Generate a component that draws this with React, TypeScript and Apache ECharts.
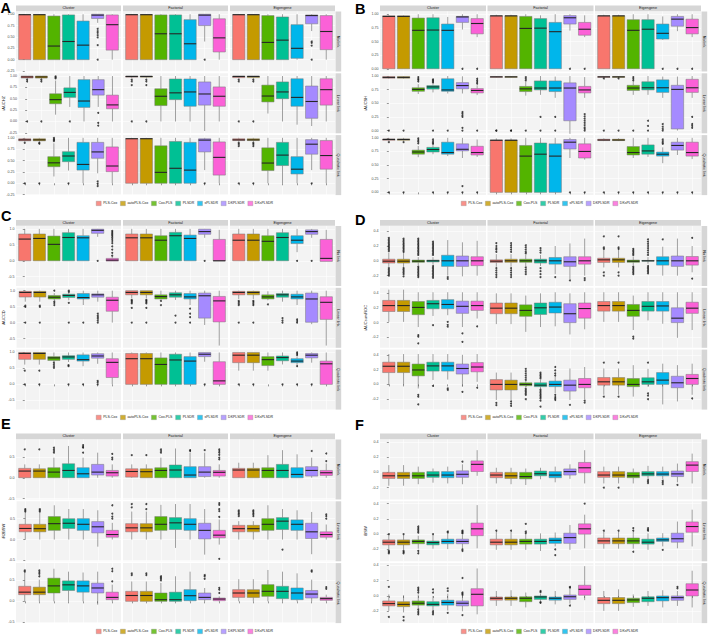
import React, { useEffect, useRef } from "react";
import * as echarts from "echarts";

const methods = ["PLS-Cox", "autoPLS-Cox", "Cox-PLS", "PLSDR", "sPLSDR", "DKPLSDR", "DKsPLSDR"];
const colors = ["#F8766D", "#C49A00", "#53B400", "#00C094", "#00B6EB", "#A58AFF", "#FB61D7"];
const designs = ["Cluster", "Factorial", "Eigengene"];
const links = ["No link", "Linear link", "Quadratic link"];

// [lower whisker, q1, median, q3, upper whisker] ; facets in order row(link) x column(design)
const boxesA = [
  [[0,0,0.99,0.99,1],[0,0,0.99,0.99,1],[0,0,0.30,0.96,1],[0,0,0.40,0.985,1],[0,0,0.32,0.85,1],[0.81,0.905,0.98,1,1],[0,0.21,0.77,0.985,1]],
  [[0,0,0.99,0.99,1],[0,0,0.99,0.99,1],[0,0,0.57,0.985,1],[0,0,0.57,0.985,1],[0,0,0.35,0.88,1],[0.40,0.75,0.98,1,1],[0,0.17,0.48,0.90,1]],
  [[0,0,0.99,0.99,1],[0,0,0.99,0.99,1],[0,0,0.38,0.97,1],[0,0,0.43,0.94,1],[0,0.03,0.25,0.77,1],[0.63,0.79,0.97,0.985,1],[0,0.22,0.62,0.97,1]],
  [[0.94,0.955,0.98,1,1],[0.94,0.955,0.98,1,1],[0.15,0.39,0.48,0.61,0.90],[0.32,0.53,0.64,0.74,1],[0,0.31,0.45,0.92,1],[0.32,0.58,0.70,0.92,1],[0,0.28,0.365,0.58,1]],
  [[0.96,0.975,0.99,1,1],[0.96,0.975,0.99,1,1],[0,0.35,0.555,0.72,1],[0,0.48,0.63,0.935,1],[0,0.335,0.65,0.935,1],[-0.21,0.36,0.605,0.87,1],[0,0.335,0.555,0.76,1]],
  [[0.95,0.965,0.99,1,1],[0.95,0.965,0.99,1,1],[0.175,0.43,0.56,0.80,1],[0,0.50,0.65,0.87,1],[-0.07,0.335,0.53,0.94,1],[-0.10,0.07,0.44,0.78,1],[0,0.36,0.70,0.94,1]],
  [[0.91,0.935,0.955,0.98,1],[0.91,0.935,0.955,0.98,1],[0.15,0.365,0.45,0.585,0.88],[0.28,0.475,0.60,0.695,1],[0,0.29,0.415,0.90,1],[0.22,0.55,0.69,0.90,1],[0,0.255,0.38,0.80,1]],
  [[0,0,0.98,0.985,1],[0,0,0.98,0.985,1],[0,0,0.24,0.825,1],[0,0,0.33,0.92,1],[0,0,0.29,0.90,1],[0.29,0.69,0.95,0.98,1],[0,0.18,0.57,0.91,1]],
  [[0.91,0.94,0.955,0.98,1],[0.91,0.94,0.955,0.98,1],[0,0.28,0.445,0.78,1],[0,0.39,0.62,0.90,1],[0,0.205,0.31,0.585,1],[0.29,0.64,0.86,0.96,1],[0,0.31,0.61,0.94,1]],
];
const outA = [
  [[],[],[],[],[],[0.68,0.63,0.59,0.54,0.49,0.32,0],[]],
  [[],[],[],[],[],[0],[]],
  [[],[],[],[],[],[0.40,0.37,0.31,0],[]],
  [[0.92,0.88,0],[0.92,0.88,0],[0.99,0.97,0.95],[0],[],[0.19,-0.03,-0.09],[]],
  [[0.92,0.88,0.80,0],[0.92,0.88,0.80,0],[],[],[],[],[]],
  [[0.92,0.88,0],[0.92,0.88,0],[],[],[],[],[]],
  [[0.89,0],[0.89,0.87,0],[1,0.97,0.95,0.93],[0],[],[0.04,-0.01,-0.06],[]],
  [[],[],[],[],[],[0],[]],
  [[0.89,0.86,0.82,0],[0.89,0.86,0.82,0],[],[],[],[0],[]],
];

const boxesB = [
  [[0,0,0.96,0.97,0.98],[0,0,0.96,0.97,0.98],[0,0,0.705,0.93,1],[0,0,0.71,0.935,1],[0,0,0.705,0.82,0.95],[0.72,0.85,0.95,0.96,1],[0.58,0.64,0.83,0.92,1]],
  [[0,0,0.97,0.97,0.99],[0,0,0.97,0.97,0.99],[0,0,0.74,0.96,1],[0,0,0.745,0.92,0.98],[0,0,0.68,0.85,1],[0.70,0.82,0.935,0.975,1],[0.58,0.615,0.725,0.85,0.98]],
  [[0,0,0.97,0.97,0.99],[0,0,0.97,0.97,0.99],[0,0,0.705,0.90,1],[0,0,0.725,0.90,1],[0.53,0.545,0.65,0.82,0.96],[0.69,0.78,0.91,0.96,1],[0.58,0.64,0.755,0.91,1]],
  [[0.95,0.96,0.975,0.99,1],[0.95,0.96,0.975,0.99,1],[0.67,0.72,0.755,0.785,0.85],[0.70,0.76,0.80,0.825,0.85],[0.68,0.72,0.745,0.95,1],[0.68,0.765,0.825,0.88,0.995],[0.65,0.69,0.735,0.77,0.83]],
  [[0.97,0.975,0.985,0.99,1],[0.97,0.975,0.985,0.99,1],[0.64,0.715,0.765,0.81,0.90],[0.655,0.745,0.78,0.91,1],[0.60,0.715,0.78,0.91,0.99],[-0.06,0.18,0.78,0.875,1],[0.60,0.69,0.745,0.81,0.98]],
  [[0.96,0.975,0.985,0.99,1],[0.96,0.975,0.985,0.99,1],[0.655,0.735,0.78,0.83,0.90],[0.655,0.745,0.785,0.895,1],[0.60,0.70,0.785,0.93,0.99],[0,0.03,0.755,0.83,0.99],[0.60,0.70,0.785,0.94,1]],
  [[0.94,0.955,0.97,0.98,1],[0.94,0.955,0.97,0.98,1],[0.645,0.70,0.74,0.775,0.85],[0.70,0.74,0.785,0.825,0.87],[0.665,0.70,0.73,0.92,1],[0.63,0.76,0.79,0.89,1],[0.65,0.685,0.73,0.845,0.97]],
  [[0,0,0.955,0.96,0.99],[0,0,0.955,0.96,0.99],[0,0,0.665,0.86,1],[0,0,0.70,0.905,1],[0,0,0.665,0.89,1],[0.63,0.795,0.92,0.97,1],[0.60,0.63,0.75,0.89,1]],
  [[0.94,0.95,0.96,0.975,0.99],[0.94,0.95,0.96,0.975,0.99],[0.63,0.685,0.73,0.84,1],[0.65,0.70,0.76,0.87,1],[0.535,0.665,0.70,0.74,0.825],[0.685,0.775,0.86,0.92,1],[0.61,0.665,0.73,0.92,1]],
];
const outB = [
  [[],[],[],[],[],[0],[0]],
  [[],[],[],[],[],[0],[0]],
  [[],[],[],[],[0],[0],[0]],
  [[0],[0],[0.98,0.95,0.93,0.90],[0.94,0.92,0.90,0.88,0],[0],[0.34,0.31,0.28,0.25,0.05,0],[0.95,0.92,0.89,0.86,0]],
  [[0,0],[0,0],[0.98,0.95,0.92,0],[0.25,0],[0.25,0],[],[0.30,0.26,0.22,0.18,0.14,0.10,0.06,0.03,0]],
  [[0.955,0],[0.955,0],[0.98,0.95,0.92,0],[0.18,0.085,0],[0.12,0.07,0.03,0],[],[0.25,0.12,0.085,0.05]],
  [[0.92,0],[0.92,0],[0.99,0.96,0.93,0.90],[0.97,0.94,0.91,0.89,0],[0],[0.115,0],[0]],
  [[],[],[],[],[],[0],[0]],
  [[0],[0],[0],[0],[0.97,0.94,0.91,0.89,0],[0],[0]],
];

const boxesC = [
  [[0,0,0.68,0.84,1],[0,0,0.70,0.84,1],[0,0,0.515,0.775,1],[0,0,0.73,0.88,1],[0,0,0.72,0.785,1],[0.75,0.86,0.955,0.99,1],[-0.01,-0.01,0.02,0.075,0.14]],
  [[0,0,0.72,0.84,1],[0,0,0.72,0.84,1],[0,0,0.645,0.785,1],[0,0,0.785,0.89,1],[0,0,0.70,0.805,1],[0.72,0.83,0.915,0.99,1],[0,0,0,0.67,0.97]],
  [[0,0,0.645,0.84,1],[0,0,0.645,0.84,1],[0,0,0.61,0.785,1],[0,0,0.73,0.88,1],[0.27,0.54,0.645,0.785,1],[0.72,0.83,0.915,0.97,1],[-0.02,-0.02,0.075,0.67,0.97]],
  [[0.655,0.80,0.945,0.98,1],[0.655,0.80,0.945,0.98,1],[0.70,0.74,0.795,0.85,0.925],[0.70,0.785,0.85,0.89,0.95],[0.55,0.74,0.785,0.91,1],[0.655,0.795,0.87,0.90,1],[0,0.355,0.70,0.795,1]],
  [[0.76,0.87,0.945,1,1],[0.76,0.87,0.945,1,1],[0.72,0.74,0.815,0.87,1],[0.71,0.795,0.87,0.935,1],[0.55,0.74,0.805,0.91,1],[-0.075,0.14,0.84,0.925,1],[-0.72,0.02,0.68,0.82,1]],
  [[0.74,0.87,0.945,0.98,1],[0.74,0.87,0.945,0.98,1],[0.70,0.74,0.805,0.87,0.98],[0.655,0.795,0.87,0.91,1],[0.55,0.74,0.805,0.89,1],[-0.05,0.01,0.74,0.925,1],[-0.72,0.10,0.635,0.81,1]],
  [[0.62,0.785,0.97,1,1],[0.62,0.785,0.97,1,1],[0.70,0.75,0.83,0.87,1],[0.70,0.785,0.86,0.90,1],[0.57,0.73,0.775,0.925,1],[0.645,0.82,0.89,0.96,1],[0,0.215,0.69,0.805,1]],
  [[0,0,0.805,0.97,1],[0,0,0.805,0.97,1],[0,0,0.625,0.83,1],[0,0,0.765,0.945,1],[0,0,0.73,0.87,1],[0.71,0.87,0.945,1,1],[0,0,0.11,0.71,1]],
  [[0.43,0.68,0.915,1,1],[0.43,0.68,0.915,1,1],[0.43,0.59,0.775,0.87,1],[0.625,0.74,0.84,0.89,1],[0.60,0.68,0.73,0.805,0.87],[0.68,0.83,0.915,0.97,1],[0,0,0.645,0.73,1]],
];
const outC = [
  [[],[],[],[],[],[0],[0.94,0.90,0.86,0.82,0.78,0.73,0.68,0.62,0.55,0.45,0.35,0.25,0.16]],
  [[],[],[],[],[],[0],[]],
  [[],[],[],[],[0],[0],[]],
  [[0.53,0.49,0],[0.53,0.49,0],[1,0.66,0.61,0.55],[1,0.96,0.62,0],[0],[0.28,0.22,0.17,0.12,0.06,0],[]],
  [[0.71,0.68,0.64,0.60,0.46,0],[0.71,0.68,0.64,0.60,0.46,0],[0.68,0.55],[0.22,0],[0.44,0.28,0.17,0],[],[]],
  [[0.68,0.64,0.59,0.55,0],[0.68,0.64,0.59,0.55,0],[0.57],[0.14,0.065,0],[0.10,0.05,0],[],[]],
  [[0.43,0],[0.43,0],[0.68,0.63,0.57,0.52],[0.60,0.57,0],[0],[0.11,0.065,0],[]],
  [[],[],[],[],[],[0],[]],
  [[0],[0],[],[0],[1,0.96,0.92,0.57,0],[0],[]],
];

const boxesD = [
  [[-0.09,-0.03,-0.005,0.022,0.11],[-0.09,-0.03,-0.005,0.022,0.11],[-0.06,-0.02,-0.005,0.01,0.05],[-0.05,-0.015,0,0.01,0.05],[-0.2,-0.075,0,0.075,0.28],[-0.21,-0.075,0,0.065,0.25],[-0.2,-0.065,0,0.055,0.27]],
  [[-0.08,-0.022,-0.005,0.013,0.09],[-0.08,-0.02,0,0.022,0.09],[-0.07,-0.02,0,0.022,0.08],[-0.07,-0.03,0,0.022,0.08],[-0.18,-0.045,0,0.045,0.2],[-0.245,-0.075,-0.013,0.055,0.235],[-0.2,-0.045,0,0.055,0.30]],
  [[-0.09,-0.022,0.013,0.035,0.155],[-0.09,-0.022,0.013,0.035,0.155],[-0.06,-0.02,-0.005,0.01,0.06],[-0.04,-0.005,0,0.005,0.05],[-0.2,-0.058,0,0.055,0.19],[-0.2,-0.075,0,0.065,0.30],[-0.155,-0.058,0,0.058,0.2]],
  [[0.01,0.15,0.23,0.30,0.445],[0.01,0.15,0.23,0.30,0.445],[-0.06,0.107,0.205,0.285,0.41],[0.09,0.187,0.255,0.30,0.41],[0.10,0.187,0.245,0.31,0.41],[-0.06,0.125,0.22,0.29,0.41],[0.055,0.165,0.23,0.29,0.41]],
  [[-0.02,0.12,0.195,0.265,0.395],[-0.02,0.12,0.195,0.265,0.395],[-0.125,0.085,0.165,0.24,0.365],[-0.06,0.11,0.20,0.265,0.395],[-0.05,0.13,0.21,0.275,0.41],[-0.16,0,0.12,0.255,0.395],[-0.09,0.06,0.19,0.265,0.41]],
  [[0.01,0.155,0.23,0.285,0.41],[0.01,0.155,0.23,0.285,0.41],[-0.10,0.085,0.165,0.245,0.365],[0.03,0.155,0.22,0.285,0.41],[-0.015,0.155,0.225,0.285,0.41],[-0.205,0,0.06,0.20,0.41],[-0.10,0.125,0.195,0.275,0.41]],
  [[-0.01,0.16,0.245,0.30,0.41],[-0.01,0.16,0.245,0.30,0.41],[-0.055,0.115,0.195,0.275,0.41],[0.06,0.18,0.25,0.30,0.41],[0.065,0.18,0.25,0.30,0.41],[-0.03,0.14,0.215,0.275,0.40],[0.035,0.17,0.235,0.295,0.41]],
  [[-0.21,-0.075,0,0.065,0.16],[-0.21,-0.075,0,0.058,0.16],[-0.045,-0.018,0,0.022,0.045],[-0.06,-0.03,-0.01,0.022,0.06],[-0.12,-0.03,0,0.045,0.10],[-0.21,-0.09,-0.01,0.058,0.215],[-0.20,-0.045,0,0.08,0.235]],
  [[-0.14,-0.01,0.035,0.093,0.215],[-0.14,-0.01,0.035,0.093,0.215],[-0.165,-0.03,0,0.08,0.26],[-0.03,0,0.035,0.09,0.21],[-0.27,0,0.058,0.16,0.28],[-0.23,-0.045,0.022,0.11,0.26],[-0.14,0,0.08,0.135,0.28]],
];
const outD = [
  [[0.31,0.29,0.27,0.25,0.23,0.21,0.19,0.17,0.15,0.13,-0.10,-0.12,-0.14,-0.16,-0.18,-0.20],[0.30,0.28,0.26,0.24,0.22,0.20,0.18,0.16,0.14,0.12,-0.10,-0.12,-0.14,-0.16,-0.18,-0.21],[0.30,0.28,0.26,0.24,0.22,0.20,0.18,0.16,0.14,0.12,0.10,0.08,-0.08,-0.10,-0.12,-0.14,-0.16,-0.18,-0.20,-0.22],[0.26,0.24,0.22,0.20,0.18,0.16,0.14,0.12,0.10,0.08,-0.07,-0.09,-0.11,-0.13,-0.15,-0.17,-0.19,-0.21,-0.23],[-0.22,-0.245],[],[]],
  [[0.24,0.20,0.17,0.15,0.12,-0.10,-0.13,-0.16,-0.19,-0.22],[0.24,0.21,0.18,0.15,0.12,-0.10,-0.13,-0.16,-0.19,-0.22],[0.21,0.18,0.15,0.12,0.10,-0.09,-0.12,-0.15,-0.18],[0.17,0.14,0.11,-0.10,-0.14,-0.18,-0.22],[-0.22],[-0.265],[-0.235,-0.26]],
  [[0.33,0.18,0.16,-0.155,-0.2],[0.33,0.18,0.16,-0.155,-0.2],[0.16,0.14,0.12,0.10,0.08,-0.08,-0.10,-0.12,-0.14,-0.16,-0.18],[0.29,0.26,0.23,0.20,0.17,0.14,0.11,0.08,-0.07,-0.09,-0.11,-0.13,-0.15,-0.17],[0.29],[],[0.31,-0.24]],
  [[],[],[-0.17,-0.19,-0.28],[-0.035],[0.01,-0.03,-0.055],[-0.145,-0.26],[-0.05]],
  [[],[],[],[],[],[],[]],
  [[],[],[-0.19,-0.215],[],[],[],[]],
  [[],[],[-0.14,-0.165,-0.27],[-0.02],[-0.055,-0.075],[-0.10],[-0.045]],
  [[-0.25,-0.28],[-0.23,-0.26,-0.29],[0.21,0.18,0.15,0.12,0.09,0.06,-0.06,-0.08,-0.10,-0.12,-0.14,-0.2],[0.16,0.14,0.12,0.10,0.08,-0.07,-0.09,-0.11,-0.13,-0.15,-0.17,-0.19,-0.22,-0.3],[0.235,0.19,0.15,0.12,-0.14,-0.17,-0.19,-0.21],[-0.275],[-0.22,-0.245]],
  [[0.295,-0.165],[0.295,-0.165],[],[0.295,-0.12,-0.15,-0.2],[],[],[-0.19]],
];

const boxesE = [
  [[0,0,0.16,0.225,0.32],[0,0,0.16,0.215,0.32],[0,0,0.135,0.24,0.48],[0,0,0.175,0.335,0.76],[0,0,0.095,0.24,0.48],[0,0.065,0.135,0.32,0.60],[0,0.04,0.12,0.175,0.32]],
  [[0,0.015,0.15,0.215,0.32],[0,0,0.145,0.215,0.32],[0,0,0.175,0.24,0.48],[0,0,0.185,0.305,0.70],[0,0,0.065,0.265,0.60],[0,0.03,0.135,0.265,0.60],[0,0.04,0.13,0.175,0.32]],
  [[0,0,0.185,0.225,0.36],[0,0,0.185,0.225,0.36],[0,0,0.175,0.24,0.54],[0,0,0.175,0.32,0.66],[0,0,0.08,0.24,0.56],[0,0.04,0.175,0.265,0.48],[0,0.055,0.12,0.175,0.34]],
  [[0,0.185,0.265,0.365,0.645],[0,0.185,0.26,0.365,0.645],[0,0.22,0.38,0.55,0.82],[0,0.265,0.39,0.50,0.73],[0,0.22,0.365,0.50,0.73],[-0.17,0.16,0.305,0.43,0.70],[0,0.056,0.12,0.22,0.40]],
  [[0,0.185,0.28,0.38,0.67],[0,0.185,0.28,0.38,0.67],[0,0.22,0.365,0.55,0.83],[-0.2,0.24,0.40,0.525,0.85],[0,0.22,0.365,0.50,0.85],[-0.36,0.015,0.22,0.39,0.73],[-0.12,0.04,0.105,0.22,0.48]],
  [[0,0.185,0.26,0.34,0.44],[0,0.185,0.26,0.34,0.44],[0,0.22,0.365,0.50,0.82],[0,0.24,0.44,0.525,0.73],[0,0.22,0.365,0.47,0.70],[-0.35,0.025,0.185,0.39,0.66],[0,0.056,0.12,0.185,0.36]],
  [[0,0.16,0.22,0.36,0.69],[0,0.16,0.22,0.34,0.52],[0,0.20,0.37,0.555,0.78],[0,0.26,0.395,0.49,0.71],[0,0.22,0.37,0.49,0.69],[-0.08,0.20,0.32,0.435,0.71],[0,0.04,0.095,0.22,0.40]],
  [[0,0,0.14,0.24,0.475],[0,0,0.14,0.24,0.475],[0,0,0.04,0.20,0.44],[0,0,0.04,0.22,0.60],[0,0.015,0.135,0.28,0.71],[0,0.04,0.095,0.20,0.32],[0,0.015,0.055,0.08,0.12]],
  [[0,0.095,0.20,0.28,0.53],[0,0.095,0.20,0.28,0.53],[0,0.12,0.24,0.40,0.75],[0,0.065,0.24,0.36,0.71],[0,0.04,0.20,0.32,0.67],[0,0.08,0.175,0.26,0.52],[0,0.025,0.065,0.095,0.16]],
];
const outE = [
  [[0.68],[0.68],[0.72,0.68,0.64,0.60],[],[0.78,0.74,0.72,0.60],[],[0.57,0.48,0.44]],
  [[0.54],[0.54],[0.68,0.64,0.60],[],[0.66,0.64],[0.66],[0.68,0.64,0.60,0.55,0.48,0.44]],
  [[],[],[],[],[],[0.64],[0.58,0.40]],
  [[0.73,0.70,0.67],[0.73,0.70,0.67],[],[],[],[],[0.82,0.62,0.55,0.50]],
  [[0.85,0.77],[0.85,0.73],[],[],[],[],[0.87,0.83,0.73,0.68,0.54,-0.46]],
  [[0.70,0.67,0.63,0.60,0.56],[0.70,0.67,0.63,0.60,0.56],[],[-0.24],[],[],[0.60,0.56,0.50]],
  [[0.74,0.71],[0.74,0.70,0.66,0.60],[],[],[],[],[0.78,0.72,0.48]],
  [[0.67,0.63],[0.67,0.63],[0.60,0.57,0.54,0.50],[],[],[0.63,0.60,0.54],[0.32,0.28,0.20]],
  [[],[],[],[],[],[0.74,0.71],[0.34,0.30]],
];

const boxesF = [
  [[-0.175,-0.08,-0.045,0,0.095],[-0.175,-0.08,-0.045,0,0.095],[-0.155,-0.08,-0.045,0,0.075],[-0.135,-0.065,-0.035,0.01,0.05],[-0.145,-0.07,-0.035,0.01,0.075],[-0.155,-0.065,-0.025,0.02,0.105],[-0.045,0.01,0.105,0.15,0.29]],
  [[-0.145,-0.07,-0.035,0,0.06],[-0.155,-0.08,-0.045,0,0.06],[-0.165,-0.085,-0.055,0,0.05],[-0.09,-0.045,-0.018,0.018,0.06],[-0.13,-0.07,-0.035,0.01,0.075],[-0.085,-0.035,0.01,0.045,0.105],[-0.145,-0.005,0.06,0.13,0.29]],
  [[-0.145,-0.065,-0.035,0.01,0.075],[-0.145,-0.065,-0.035,0.01,0.075],[-0.145,-0.07,-0.045,0,0.05],[-0.09,-0.045,-0.02,0.01,0.085],[-0.09,-0.045,-0.022,0.01,0.075],[-0.13,-0.055,-0.02,0.018,0.115],[-0.145,0.01,0.095,0.14,0.245]],
  [[-0.205,-0.14,-0.105,-0.075,-0.01],[-0.205,-0.14,-0.105,-0.075,-0.01],[-0.19,-0.125,-0.095,-0.075,-0.02],[-0.19,-0.14,-0.11,-0.09,-0.01],[-0.195,-0.125,-0.095,-0.065,0.013],[-0.19,-0.125,-0.095,-0.065,-0.01],[-0.185,-0.02,0.07,0.145,0.38]],
  [[-0.205,-0.14,-0.105,-0.065,0.035],[-0.205,-0.14,-0.105,-0.065,0.035],[-0.205,-0.13,-0.095,-0.065,0.01],[-0.22,-0.13,-0.095,-0.065,0.01],[-0.16,-0.12,-0.08,-0.05,0.022],[-0.205,-0.12,-0.045,0.013,0.12],[-0.185,0,0.07,0.135,0.255]],
  [[-0.19,-0.125,-0.088,-0.05,0.035],[-0.19,-0.125,-0.088,-0.05,0.035],[-0.19,-0.125,-0.088,-0.05,0.03],[-0.205,-0.13,-0.105,-0.065,0.01],[-0.16,-0.095,-0.075,-0.05,0.013],[-0.185,-0.105,-0.06,0.013,0.165],[-0.16,0.025,0.10,0.16,0.32]],
  [[-0.195,-0.13,-0.10,-0.065,0.02],[-0.215,-0.14,-0.11,-0.075,0.01],[-0.16,-0.12,-0.095,-0.065,0.02],[-0.19,-0.13,-0.11,-0.075,0],[-0.19,-0.12,-0.085,-0.055,0.03],[-0.2,-0.13,-0.095,-0.065,0],[-0.24,-0.13,0.022,0.095,0.36]],
  [[-0.13,-0.055,-0.03,-0.013,0.065],[-0.13,-0.055,-0.03,-0.013,0.075],[-0.15,-0.075,-0.03,-0.01,0.045],[-0.065,-0.045,-0.013,0,0.03],[-0.11,-0.055,-0.03,-0.013,0.065],[-0.1,-0.045,-0.01,0.013,0.10],[-0.055,0.01,0.087,0.14,0.39]],
  [[-0.195,-0.1,-0.057,-0.02,0.065],[-0.195,-0.1,-0.057,-0.02,0.087],[-0.143,-0.087,-0.052,-0.03,0.02],[-0.13,-0.075,-0.03,-0.01,0.065],[-0.15,-0.065,-0.022,0,0.075],[-0.13,-0.057,-0.022,0,0.065],[-0.15,0,0.078,0.16,0.33]],
];
const outF = [
  [[],[],[],[],[],[0.14],[]],
  [[],[],[],[],[],[],[]],
  [[-0.2],[-0.2],[],[-0.10,-0.12,-0.14],[-0.11,-0.13,-0.155],[-0.165],[]],
  [[0,-0.22,-0.235,-0.25],[0,-0.22,-0.235,-0.25],[0.10,0.08,0.06,0.04,0.02,-0.22,-0.25],[0],[0.035,0.022],[0.045,0.035,0.02,0.01,-0.20,-0.22],[]],
  [[0.045],[0.045],[0.135,0.035,0.015],[],[-0.2,-0.275],[],[0.40]],
  [[0.045],[0.045],[0.08,0.045,-0.23],[0.08,0.06,0.045],[-0.205],[],[]],
  [[0.12,-0.275],[-0.275,-0.32],[0.11,0.09,0.07,0.045,-0.175,-0.2,-0.22,-0.24],[0.085,0.045,-0.2,-0.22,-0.24],[0.10,0.065,-0.22],[0.235,0.045,0.03,0.013,-0.25],[]],
  [[],[],[],[0.065,0.05,-0.08,-0.09],[],[0.12,0.11,-0.125],[]],
  [[],[],[],[],[],[0.12,0.10],[]],
];

const yTicksA = [-0.25, 0, 0.25, 0.5, 0.75, 1];
const yTicksB = [0, 0.25, 0.5, 0.75, 1];
const yTicksC = [-0.5, 0, 0.5, 1];
const yTicksD = [-0.2, 0, 0.2, 0.4];
const yTicksE = [-0.5, 0, 0.5];
const yTicksF = [-0.2, 0, 0.2, 0.4];

const panels = [
  { letter: "A", name: "iAUCHZ", boxes: boxesA, out: outA, ticks: yTicksA, dec: 2, min: -0.26, max: 1.06 },
  { letter: "B", name: "iAUCSH", boxes: boxesB, out: outB, ticks: yTicksB, dec: 2, min: -0.05, max: 1.05 },
  { letter: "C", name: "iAUCCD", boxes: boxesC, out: outC, ticks: yTicksC, dec: 1, min: -0.79, max: 1.09 },
  { letter: "D", name: "iAUCsurvROC", boxes: boxesD, out: outD, ticks: yTicksD, dec: 1, min: -0.34, max: 0.47 },
  { letter: "E", name: "iR2BSW", boxes: boxesE, out: outE, ticks: yTicksE, dec: 1, min: -0.52, max: 0.915 },
  { letter: "F", name: "iBSW", boxes: boxesF, out: outF, ticks: yTicksF, dec: 1, min: -0.355, max: 0.43 },
];

// layout (pixels)
const layouts = [
  { x0: 16, y0: 11.5, colW: 105, gapX: 2, nameGap: 11, lx: 0.5, ly: 0, legendLeft: 96, legendTop: 201 },
  { x0: 380, y0: 11.5, colW: 106, gapX: 1.5, nameGap: 13, lx: 355, ly: 1, legendLeft: 461, legendTop: 201 },
  { x0: 16, y0: 226, colW: 105, gapX: 2, nameGap: 11, lx: 1, ly: 208.5, legendLeft: 96, legendTop: 415 },
  { x0: 380, y0: 226, colW: 106, gapX: 1.5, nameGap: 13, lx: 355, ly: 212, legendLeft: 461, legendTop: 415 },
  { x0: 16, y0: 439.5, colW: 105, gapX: 2, nameGap: 11, lx: 1, ly: 416.5, legendLeft: 96, legendTop: 629 },
  { x0: 380, y0: 439.5, colW: 106, gapX: 1.5, nameGap: 13, lx: 355, ly: 417, legendLeft: 461, legendTop: 629 },
];
const rowH = 60;
const gapY = 1.8;
const stripW = 6;
const FONT = "Liberation Sans, Arial, sans-serif";
const panelBg = "#F3F3F3";
const stripBg = "#D6D6D6";

function buildOption() {
  const grid: any[] = [];
  const xAxis: any[] = [];
  const yAxis: any[] = [];
  const series: any[] = [];
  const graphic: any[] = [];
  const legend: any[] = [];
  const xPositions = methods.map((_, i) => i);

  panels.forEach((p, pi) => {
    const L = layouts[pi];
    const totalW = 3 * L.colW + 2 * L.gapX;
    graphic.push({
      type: "text", x: L.lx, y: L.ly, silent: true,
      style: { text: p.letter, font: `bold 14.5px ${FONT}`, fill: "#000", verticalAlign: "top" },
    });
    designs.forEach((d, c) => {
      const left = L.x0 + c * (L.colW + L.gapX);
      graphic.push({ type: "rect", silent: true, shape: { x: left, y: L.y0 - stripW, width: L.colW, height: stripW - 0.3 }, style: { fill: stripBg } });
      graphic.push({ type: "text", silent: true, x: left + L.colW / 2, y: L.y0 - stripW / 2 - 0.2,
        style: { text: d, fontSize: 3.8, fontFamily: FONT, fill: "#1a1a1a", align: "center", verticalAlign: "middle" } });
    });
    links.forEach((lk, r) => {
      const top = L.y0 + r * (rowH + gapY);
      const sx = L.x0 + totalW + 0.5;
      graphic.push({ type: "rect", silent: true, shape: { x: sx, y: top, width: stripW - 0.3, height: rowH }, style: { fill: stripBg } });
      graphic.push({ type: "text", silent: true, x: sx + stripW / 2 - 0.15, y: top + rowH / 2, rotation: -Math.PI / 2,
        style: { text: lk, fontSize: 3.8, fontFamily: FONT, fill: "#1a1a1a", align: "center", verticalAlign: "middle" } });
    });

    for (let r = 0; r < 3; r++) {
      for (let c = 0; c < 3; c++) {
        const f = r * 3 + c;
        const gi = grid.length;
        grid.push({
          left: L.x0 + c * (L.colW + L.gapX), top: L.y0 + r * (rowH + gapY),
          width: L.colW, height: rowH, show: true, backgroundColor: panelBg, borderWidth: 0,
        });
        xAxis.push({
          type: "value", gridIndex: gi, min: -0.6, max: 6.6,
          axisLine: { show: false },
          axisLabel: { show: false },
          axisTick: { show: r === 2, customValues: xPositions, length: 2, lineStyle: { color: "#333", width: 0.5 } },
          splitLine: { show: true, lineStyle: { color: "#FFFFFF", width: 0.6 } },
        });
        const isName = c === 0 && r === 1;
        yAxis.push({
          type: "value", gridIndex: gi, min: p.min, max: p.max,
          axisLine: { show: false },
          axisTick: { show: c === 0, customValues: p.ticks, length: 2, lineStyle: { color: "#333", width: 0.5 } },
          axisLabel: {
            show: c === 0, customValues: p.ticks, margin: 1.5, fontSize: 3.6, fontFamily: FONT, color: "#4d4d4d",
            formatter: (v: number) => v.toFixed(p.dec),
          },
          splitLine: { show: true, lineStyle: { color: "#FFFFFF", width: 0.6 } },
          name: isName ? p.name : "",
          nameLocation: "middle", nameGap: L.nameGap, nameRotate: 90,
          nameTextStyle: { fontSize: 4, fontFamily: FONT, color: "#1a1a1a" },
        });
        const boxData = p.boxes[f].map((b, i) => [i, b[0], b[1], b[2], b[3], b[4]]);
        series.push({
          type: "custom", xAxisIndex: gi, yAxisIndex: gi, silent: true, z: 3,
          encode: { x: 0, y: [1, 2, 3, 4, 5] },
          data: boxData,
          renderItem: (params: any, api: any) => {
            const x = api.value(0);
            const lo = api.coord([x, api.value(1)]);
            const q1 = api.coord([x, api.value(2)]);
            const md = api.coord([x, api.value(3)]);
            const q3 = api.coord([x, api.value(4)]);
            const hi = api.coord([x, api.value(5)]);
            const w = api.size([0.84, 0])[0];
            const ci = params.dataIndex;
            const wl = { stroke: "#555", lineWidth: 0.55 };
            return {
              type: "group",
              children: [
                { type: "line", shape: { x1: lo[0], y1: lo[1], x2: q1[0], y2: q1[1] }, style: wl },
                { type: "line", shape: { x1: q3[0], y1: q3[1], x2: hi[0], y2: hi[1] }, style: wl },
                { type: "rect", shape: { x: q3[0] - w / 2, y: q3[1], width: w, height: Math.max(q1[1] - q3[1], 0.4) },
                  style: { fill: colors[ci], stroke: "#777", lineWidth: 0.5 } },
                { type: "line", shape: { x1: md[0] - w / 2, y1: md[1], x2: md[0] + w / 2, y2: md[1] }, style: { stroke: "#262626", lineWidth: 1.1 } },
              ],
            };
          },
        });
        const outData: number[][] = [];
        p.out[f].forEach((vals, i) => vals.forEach((v) => outData.push([i, v])));
        series.push({
          type: "scatter", xAxisIndex: gi, yAxisIndex: gi, silent: true, z: 4,
          symbol: "circle", symbolSize: 2, itemStyle: { color: "#1a1a1a" },
          data: outData,
        });
      }
    }
    legend.push({
      data: methods, left: L.legendLeft, top: L.legendTop, orient: "horizontal",
      padding: 0, itemWidth: 5, itemHeight: 4.5, itemGap: 3, icon: "rect", selectedMode: false,
      itemStyle: { borderColor: "#888", borderWidth: 0.4 },
      textStyle: { fontSize: 3.5, fontFamily: FONT, color: "#1a1a1a", padding: [0, 0, 0, -3] },
    });
  });

  methods.forEach((m, i) => {
    series.push({ type: "scatter", name: m, xAxisIndex: 0, yAxisIndex: 0, data: [], itemStyle: { color: colors[i] } });
  });

  return {
    animation: false,
    backgroundColor: "#FFFFFF",
    textStyle: { fontFamily: FONT },
    grid, xAxis, yAxis, series, graphic, legend,
  };
}

export default function App() {
  const ref = useRef<HTMLDivElement>(null);
  useEffect(() => {
    if (!ref.current) return;
    const chart = echarts.init(ref.current, undefined, { renderer: "svg" });
    chart.setOption(buildOption() as any);
    return () => chart.dispose();
  }, []);
  return <div ref={ref} style={{ position: "fixed", left: 0, top: 0, width: 708, height: 636 }} />;
}
